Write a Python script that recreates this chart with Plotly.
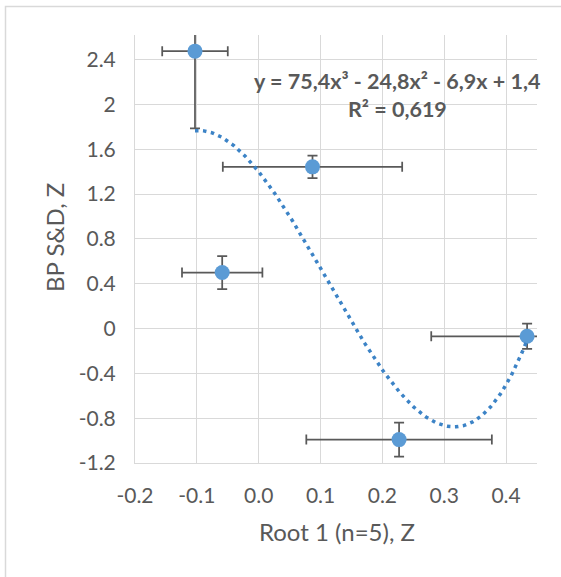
import numpy as np
import plotly.graph_objects as go

# ---- data ----
root1_z = [-0.103, 0.087, -0.059, 0.227, 0.434]
bp_sd_z = [2.476, 1.443, 0.500, -0.991, -0.069]
root1_err = [0.053, 0.145, 0.065, 0.150, 0.155]
bp_sd_err = [0.690, 0.100, 0.147, 0.152, 0.112]
trend_coefs = [75.4, -24.8, -6.9, 1.4]   # y = 75,4x^3 - 24,8x^2 - 6,9x + 1,4
r_squared = "0,619"

x_tickvals = [-0.2, -0.1, 0.0, 0.1, 0.2, 0.3, 0.4]
x_ticktext = ["-0.2", "-0.1", "0.0", "0.1", "0.2", "0.3", "0.4"]
y_tickvals = [-1.2, -0.8, -0.4, 0.0, 0.4, 0.8, 1.2, 1.6, 2.0, 2.4]
y_ticktext = ["-1.2", "-0.8", "-0.4", "0", "0.4", "0.8", "1.2", "1.6", "2", "2.4"]

# ---- style ----
W, H = 561, 577
L, R, T, B = 135, 24, 35, 114
pw, ph = W - L - R, H - T - B
FONT = "Lato, 'Open Sans', sans-serif"
TXT = "#595959"
GRID = "#D9D9D9"

def px2paper_x(px):
    return (px - L) / pw

def px2paper_y(py):
    return (H - B - py) / ph

tx = np.linspace(min(root1_z), max(root1_z), 300)
ty = np.polyval(trend_coefs, tx)

fig = go.Figure()
fig.add_trace(go.Scatter(
    x=root1_z, y=bp_sd_z, mode="markers",
    marker=dict(size=15, color="#5B9BD5"),
    error_x=dict(type="data", array=root1_err, color="#595959", thickness=1.75, width=5),
    error_y=dict(type="data", array=bp_sd_err, color="#595959", thickness=1.75, width=5),
    showlegend=False, cliponaxis=True,
))
fig.add_trace(go.Scatter(
    x=tx, y=ty, mode="lines",
    line=dict(color="#3C83C6", width=3.5, dash="3.5px,4.5px"),
    showlegend=False,
))

eq_text = "y = %s,%sx³ - %s,%sx² - %s,%sx + %s,%s" % tuple(
    part for c in [abs(c) for c in trend_coefs] for part in str(c).split(".")
)

fig.update_layout(
    width=W, height=H,
    margin=dict(l=L, r=R, t=T, b=B),
    paper_bgcolor="white", plot_bgcolor="white",
    font=dict(family=FONT, color=TXT, size=21),
    xaxis=dict(range=[-0.2, 0.45], tickvals=x_tickvals, ticktext=x_ticktext,
               showgrid=True, gridcolor=GRID, gridwidth=1, zeroline=False,
               showline=True, linecolor=GRID, linewidth=1,
               ticks="", ticklabelstandoff=14, tickfont=dict(size=21, color=TXT)),
    yaxis=dict(range=[-1.2, 2.62], tickvals=y_tickvals, ticktext=y_ticktext,
               showgrid=True, gridcolor=GRID, gridwidth=1, zeroline=False,
               showline=True, linecolor=GRID, linewidth=1,
               ticks="", ticklabelstandoff=14, tickfont=dict(size=21, color=TXT)),
    annotations=[
        dict(x=0.2242, y=2.208, xref="x", yref="y", text="<b>" + eq_text + "</b>",
             showarrow=False, font=dict(size=21.5, color=TXT), xanchor="center", yanchor="middle"),
        dict(x=0.2242, y=1.963, xref="x", yref="y", text="<b>R² = " + r_squared + "</b>",
             showarrow=False, font=dict(size=21.5, color=TXT), xanchor="center", yanchor="middle"),
        dict(x=px2paper_x(337), y=px2paper_y(531), xref="paper", yref="paper",
             text="Root 1 (n=5), Z", showarrow=False, font=dict(size=24, color=TXT),
             xanchor="center", yanchor="middle"),
        dict(x=px2paper_x(54.5), y=px2paper_y(237.5), xref="paper", yref="paper",
             text="BP S&amp;D, Z", showarrow=False, textangle=-90, font=dict(size=24, color=TXT),
             xanchor="center", yanchor="middle"),
    ],
    shapes=[
        dict(type="rect", xref="paper", yref="paper",
             x0=px2paper_x(5.5), y0=px2paper_y(620), x1=px2paper_x(620), y1=px2paper_y(6.5),
             line=dict(color=GRID, width=1.5), fillcolor="rgba(0,0,0,0)", layer="below"),
    ],
)

fig.write_html(
    "out.html",
    config={"displayModeBar": False},
    post_script="document.body.style.margin='0';document.body.style.overflow='hidden';",
)
